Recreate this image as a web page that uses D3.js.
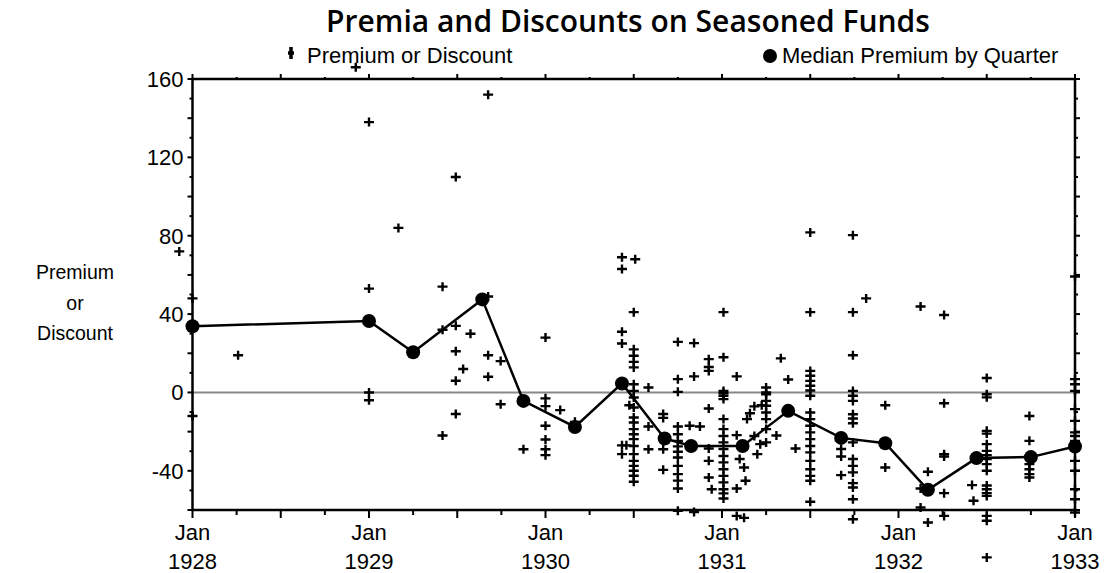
<!DOCTYPE html>
<html>
<head>
<meta charset="utf-8">
<script src="https://cdn.jsdelivr.net/npm/d3@7"></script>
<style>
  body { margin: 0; background: #fff; }
  svg text { font-family: "Liberation Sans", Arial, sans-serif; fill: #000; }
</style>
</head>
<body>
<div id="chart"></div>
<script>
// months counted from Jan 1928
const yearTicks = [0, 12, 24, 36, 48, 60];
const yearLabels = ["1928", "1929", "1930", "1931", "1932", "1933"];
const yLabelTicks = [-40, 0, 40, 80, 120, 160];

// median premium by quarter
const medianMonths = [0, 12, 15, 19.7, 22.5, 26, 29.2, 32.1, 33.9, 37.4, 40.5, 44.1, 47.1, 50, 53.3, 57, 60];
const medianValues = [33.8, 36.5, 20.5, 47.5, -4.3, -17.6, 4.6, -23.5, -27.3, -27.3, -9.4, -23.2, -25.9, -49.7, -33.5, -33, -27.6];

// individual fund premia, [month, value]
const singlePoints = [
  [-0.9, 72], [0, 48], [0, -12], [3.1, 19],
  [11.1, 166], [12, 138], [12, 53], [12, 0], [12, -4],
  [14, 84], [17, 54], [17, 32], [17, -22],
  [17.9, 110], [17.9, 34], [17.9, 21], [17.9, 6], [17.9, -11],
  [18.4, 12], [18.9, 30], [20.1, 152], [20.1, 49], [20.1, 19], [20.1, 8],
  [20.95, 16], [20.95, -6], [22.5, -29],
  [24, 28], [24, -3], [24, -7], [24, -17], [24, -24], [24, -29], [24, -32],
  [25, -9], [26, -15],
  [29.2, 69], [29.2, 63], [30.1, 68], [29.2, 31], [29.2, 25], [29.2, -27], [29.2, -31.5],
  [29.5, -27], [29.7, -6.5],
  [31, 2.5], [31, -17.4], [31, -29],
  [32, -11], [32, -13], [32, -29], [32, -39.5],
  [34.1, 25.2], [34.1, 8.2], [33.8, -17], [34.5, -17.4], [34.1, -61],
  [35.1, 17], [35.1, 13], [35.1, 11], [35.1, -8.2], [35.1, -28.6], [35.1, -34.9], [35.1, -43.4], [35.3, -49.4],
  [37, 8.2], [37, -21.8], [37.2, -34], [37.5, -38.3], [37.6, -45.1], [37, -49], [37, -63], [37.5, -64],
  [37.7, -13.6], [37.9, -10.6], [38.2, -22.2], [38.4, -31.5], [38.6, -26.4], [38.7, -6.5], [38.2, -7.1],
  [39.7, -22], [40, 17.4], [40.5, 6.6], [41, -28.6],
  [44.1, -28.9], [44.1, -32.7], [44.1, -42.2],
  [45.8, 48], [47.1, -6.5], [47.1, -38.3],
  [49.5, 43.9], [49.5, -49], [49.5, -58.7], [50, -40.5], [50, -66.4],
  [51.1, 39.5], [51.1, -5.5], [51.1, -31.5], [51.1, -32.7], [51.1, -51.4], [51.1, -63],
  [53, -47.3], [53.1, -55.3], [53.3, -34]
];

// columns of many funds reported at the same date
const columnMonths = [30, 33, 36.1, 39, 42, 44.9, 54, 56.9, 60];
const columnValues = [
  [41, 22, 18.7, 15.6, 12.8, 4.2, 0.8, -2.6, -7.7, -12.8, -15.3, -18.7, -21.3, -23.8, -27.3, -31.5, -34.9, -37.5, -40, -42.5, -45.6],
  [25.8, 6.8, 0.3, -17.4, -21.3, -24.7, -27.5, -30.3, -33.2, -37.5, -41.7, -45, -49, -60.4],
  [41, 18, 0.8, -0.4, -1.7, -3.4, -13.6, -18.7, -22.2, -25.5, -28.9, -32.4, -35.7, -39.2, -42.6, -45.9, -49.4, -51.5, -54.1],
  [2.5, 0, -0.9, -4.3, -6.8, -10.2, -13.6, -18.7, -25.5],
  [81.7, 41, 11, 8.5, 5.9, 3.4, 1, -1.7, -10.2, -13.6, -17, -20.4, -23.8, -27.3, -30.6, -34.9, -39.2, -42.6, -45.1, -55.8],
  [80.3, 41, 19, 0.8, -1.7, -4.3, -11.1, -13.3, -15.7, -25.5, -34, -37.5, -40.8, -46.3, -48.5, -54.5, -64.7],
  [7.4, -0.9, -2.5, -19.6, -21, -26.4, -29.8, -32, -34, -36.6, -40, -47.5, -49.4, -51.4, -52.8, -63, -65.5, -84.2],
  [-12, -24.7, -36.6, -39.2, -41.7, -43.4],
  [59.2, 6.8, 4.2, 0.8, -8.5, -14.5, -20.4, -22.2, -24.7, -27.3, -34.9, -40, -49.4, -54.5, -61.3]
];

const W = 1115, H = 573;
const margin = { top: 79, right: 40, bottom: 63, left: 192.5 };

let points = singlePoints.slice();
columnMonths.forEach((m, i) => columnValues[i].forEach(v => points.push([m, v])));

const svg = d3.select('#chart').append('svg')
  .attr('width', W).attr('height', H);

const x = d3.scaleLinear().domain([0, 60]).range([margin.left, W - margin.right]);
const y = d3.scaleLinear().domain([-60, 160]).range([H - margin.bottom, margin.top]);

const x0 = x(0), x1 = x(60), yTop = y(160), yBot = y(-60);

// zero line
svg.append('line')
  .attr('x1', x0).attr('x2', x1).attr('y1', y(0)).attr('y2', y(0))
  .attr('stroke', '#888').attr('stroke-width', 2);

// ticks
const quarterTicks = d3.range(0, 61, 3);
const valTicks = d3.range(-60, 161, 10);
const tk = svg.append('g').attr('stroke', '#000').attr('stroke-width', 2);
quarterTicks.forEach(m => {
  const major = m % 6 === 0;
  tk.append('line').attr('x1', x(m)).attr('x2', x(m))
    .attr('y1', yBot).attr('y2', yBot + (major ? 8 : 5));
  tk.append('line').attr('x1', x(m)).attr('x2', x(m))
    .attr('y1', yTop).attr('y2', yTop - (major ? 5 : 2));
});
valTicks.forEach(v => {
  const major = v % 20 === 0;
  tk.append('line').attr('x1', x0).attr('x2', x0 - (major ? 5 : 3))
    .attr('y1', y(v)).attr('y2', y(v));
  tk.append('line').attr('x1', x1).attr('x2', x1 + (major ? 5 : 3))
    .attr('y1', y(v)).attr('y2', y(v));
});

// frame
svg.append('rect')
  .attr('x', x0).attr('y', yTop).attr('width', x1 - x0).attr('height', yBot - yTop)
  .attr('fill', 'none').attr('stroke', '#000').attr('stroke-width', 2.5);

// tick labels
svg.selectAll('.ylab').data(yLabelTicks).enter().append('text')
  .attr('x', x0 - 9).attr('y', d => y(d) + 8)
  .attr('text-anchor', 'end').attr('font-size', 22)
  .text(d => d);

const xl = svg.selectAll('.xlab').data(yearTicks).enter().append('g');
xl.append('text').attr('x', d => x(d)).attr('y', 540)
  .attr('text-anchor', 'middle').attr('font-size', 22).text('Jan');
xl.append('text').attr('x', d => x(d)).attr('y', 569)
  .attr('text-anchor', 'middle').attr('font-size', 22).text((d, i) => yearLabels[i]);

// y title
['Premium', 'or', 'Discount'].forEach((t, i) => {
  svg.append('text').attr('x', 75).attr('y', 279 + i * 30.5)
    .attr('text-anchor', 'middle').attr('font-size', 19.5).text(t);
});

// plus markers
const plus = 'M-5,0H5M0,-4.5V4.5';
svg.append('g').selectAll('path').data(points).enter().append('path')
  .attr('d', plus)
  .attr('transform', d => `translate(${x(d[0])},${y(d[1])})`)
  .attr('stroke', '#000').attr('stroke-width', 2.4).attr('fill', 'none');

// median line and dots
const med = medianMonths.map((m, i) => [m, medianValues[i]]);
svg.append('path').datum(med)
  .attr('d', d3.line().x(d => x(d[0])).y(d => y(d[1])))
  .attr('fill', 'none').attr('stroke', '#000').attr('stroke-width', 2.5);
svg.append('g').selectAll('circle').data(med).enter().append('circle')
  .attr('cx', d => x(d[0])).attr('cy', d => y(d[1])).attr('r', 7).attr('fill', '#000');

// title
svg.append('text').attr('x', 628).attr('y', 32)
  .attr('text-anchor', 'middle').attr('font-size', 30).attr('font-weight', 600)
  .style('font-family', '"Open Sans", sans-serif')
  .text('Premia and Discounts on Seasoned Funds');

// legend
svg.append('path').attr('d', 'M-3,0H3M0,-6V6').attr('transform', 'translate(291,53)')
  .attr('stroke', '#000').attr('stroke-width', 3.5);
svg.append('text').attr('x', 307).attr('y', 63).attr('font-size', 22).text('Premium or Discount');
svg.append('circle').attr('cx', 770).attr('cy', 56).attr('r', 7).attr('fill', '#000');
svg.append('text').attr('x', 782).attr('y', 63).attr('font-size', 22).text('Median Premium by Quarter');
</script>
</body>
</html>
